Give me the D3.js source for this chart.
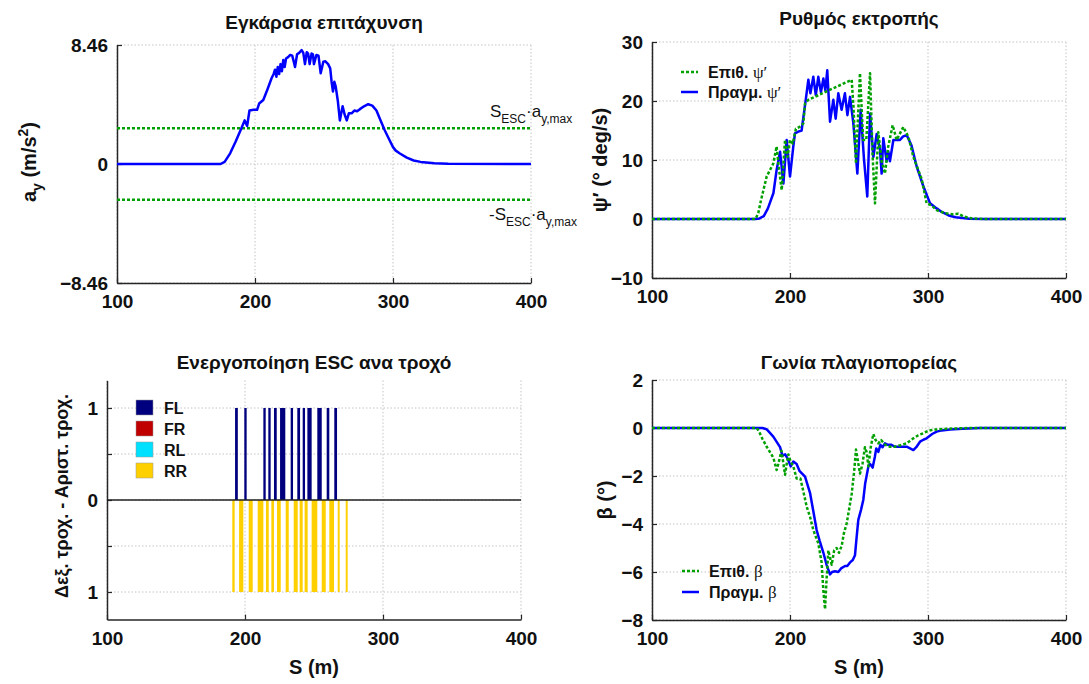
<!DOCTYPE html>
<html>
<head>
<meta charset="utf-8">
<script src="https://cdn.jsdelivr.net/npm/d3@7"></script>
<style>
  body { margin: 0; background: #fff; }
  svg { display: block; font-family: "Liberation Sans", Arial, sans-serif; }
</style>
</head>
<body>
<svg id="chart" width="1089" height="684"></svg>
<script>
// ESC simulation: four small panels sharing the S (m) axis.

const X_TICKS = [100, 200, 300, 400];

// lateral acceleration a_y (m/s^2) vs S
const AY_MAX = 8.46;
const AY_THRESH = 2.55;
const AY_ACT = [[100,0],[170,0],[175,0],[178,0.15],[182,0.76],[186,1.6],[190,2.5],[192.5,3.1],[194.3,2.7],[196,3.8],
  [199,3.85],[201.5,3.85],[203,4.3],[206,4.55],[209,5.3],[212,6.1],[213.5,6.4],[214.5,6.7],[215.5,6.2],[216.5,6.9],
  [217.5,6.4],[218.5,7.1],[219.5,6.6],[220.5,7.4],[221.5,6.9],[222.5,7.5],[224,7.6],[225.5,7.75],[227,7.7],[228,7.3],
  [229,6.9],[230.5,7.8],[232,7.9],[233.8,8.1],[235,7.9],[236.2,7.1],[237.5,7.95],[238.5,7.85],[239.6,7.1],[241,7.85],
  [242,7.8],[242.7,7.1],[244.5,7.75],[246,7.7],[247.6,6.45],[249.5,7.27],[251,7.3],[253,7.1],[254.5,6.8],[255.5,5.85],
  [256.5,5.15],[257.5,5.85],[258.5,5.5],[260,4.5],[261.5,3.1],[262.5,3.6],[263.5,4.1],[265,3.5],[266.5,3.1],[268,3.6],
  [270,3.6],[272,3.8],[274,3.75],[276,3.9],[279,4.1],[282,4.25],[285,4.15],[288,3.8],[291,3.1],[294,2.4],[297,1.8],
  [300,1.2],[302,0.95],[305,0.75],[310,0.45],[315,0.25],[320,0.15],[330,0.05],[340,0.01],[400,0]];

// yaw rate psi' (deg/s): reference and actual
const PSI_TICKS = [-10, 0, 10, 20, 30];
const PSI_REF = [[100,0],[175,0],[177,1.0],[179,3.2],[183.1,7.2],[187.9,9.4],[190.3,12.3],[192,8.5],[194,4.9],[196.4,13.4],
  [198.2,10.5],[200,13.4],[202,12.8],[204.3,15.3],[207.2,15.65],[209.7,16.2],[210.9,19.6],[213.3,20.2],[244.7,23.6],[246,19],
  [247.8,9.4],[250.7,24.7],[253,13.4],[255.3,13.4],[258,24.7],[259.8,11],[261.6,2.65],[264,14.7],[266.4,9.8],[268.8,7.7],
  [271.2,12.3],[274.4,15.9],[277.3,13.4],[282.1,15.6],[285.8,13.9],[289.4,10.5],[295.4,6.8],[299,2.65],[302.6,2.3],
  [306.3,1.5],[312,1.0],[318,0.8],[322,0.9],[326,0.4],[332,0.1],[340,0],[400,0]];
const PSI_ACT = [[100,0],[175,0],[178,0.1],[181,0.5],[184,1.8],[188,4.4],[190.3,8.3],[192.8,11.4],[195.2,6.0],[197.6,13.4],
  [200,7.2],[202.4,12.3],[203.6,14.5],[206,14.8],[208.4,15.0],[210.9,19.3],[213.3,23.6],[214.8,21.3],[216.9,24.1],[218.7,21.0],
  [220.5,24.1],[222.4,21.5],[224.2,23.8],[225.6,21.8],[227,25.2],[229,16.5],[231.4,20.2],[233.1,17.0],[235,21.3],[237.4,18.5],
  [239.8,21.3],[241.6,17.6],[243.5,20.7],[245.9,16.2],[248.8,7.7],[251.2,18.5],[253.6,10.2],[256,3.8],[258,17.9],[260.4,10.5],
  [262.8,14.4],[265.2,11.8],[266.4,7.7],[267.6,13.7],[270,9.8],[271.2,11.5],[272.4,9.8],[274.9,13.4],[279.7,13.4],[282,14],
  [284.6,14.2],[288,12.5],[291.8,8.9],[296.7,5.5],[301.5,2.65],[306.3,1.8],[310,1.2],[315,0.6],[320,0.3],[330,0.05],[340,0],[400,0]];

// ESC activation intervals [S start, S end] per wheel
const BRAKE_TICKS = [-1, -0.5, 0, 0.5, 1];
const FL_ON = [[192.8,194.8],[199.5,201.2],[213.3,215.0],[216.9,218.6],[221.0,223.0],[225.4,229.2],[233.1,234.8],
  [237.9,239.9],[241.8,243.5],[245.2,248.3],[252.4,255.6],[259.2,261.1],[264.7,266.7]];
const RR_ON = [[190.8,192.5],[195.7,198.8],[202.7,205.6],[209.2,213.3],[215.2,217.2],[219.1,221.0],[223.2,225.9],
  [229.5,231.7],[235.3,238.2],[239.6,241.8],[243.2,245.4],[248.3,252.4],[255.6,258.5],[261.1,264.5],[267.2,268.6],[273.0,274.4]];
const WHEELS = ['FL', 'FR', 'RL', 'RR'];
const WHEEL_COLORS = ['#00007f', '#c00000', '#00e0ff', '#ffd000'];

// sideslip angle beta (deg): reference and actual
const BETA_TICKS = [-8, -6, -4, -2, 0, 2];
const BETA_REF = [[100,0],[176,0],[178,-0.2],[180,-0.45],[183.1,-0.78],[186,-1.05],[188,-1.25],[190.3,-1.75],[191.5,-1.5],
  [192.8,-1.2],[193.8,-0.95],[195,-1.4],[196.4,-1.95],[197.6,-1.5],[198.8,-1.1],[200.5,-1.4],[202.4,-1.6],[204.8,-2.1],
  [207.5,-2.1],[209.5,-2.6],[212.1,-3.28],[214.5,-3.7],[216.9,-4.25],[218.5,-4.5],[220.5,-4.8],[222.9,-5.6],[224.2,-6.8],
  [225.4,-7.55],[226.5,-6.3],[227.8,-5.1],[229,-5.4],[230.2,-5.7],[232,-5.1],[233.8,-5.0],[235.5,-5.2],[237.5,-4.9],
  [239,-4.4],[241.1,-3.97],[244.7,-2.75],[246.5,-1.8],[247.8,-0.9],[249,-1.3],[250.7,-1.9],[252.5,-1.5],[254.3,-0.8],
  [255.5,-1.0],[256.8,-1.6],[258.5,-0.8],[260.4,-0.25],[262,-0.5],[264,-0.64],[266,-0.5],[269,-0.7],[272.5,-0.78],
  [276,-0.78],[280,-0.72],[284.5,-0.64],[289.4,-0.43],[293,-0.3],[296.6,-0.22],[300,-0.12],[303.9,-0.07],[313.5,-0.03],
  [330,0],[400,0]];
const BETA_ACT = [[100,0],[180,0],[183,-0.05],[187.9,-0.36],[192.8,-0.8],[194.5,-1.15],[196.5,-1.1],[198.5,-1.3],[200.5,-1.6],
  [202.4,-1.4],[204.8,-1.5],[207,-1.8],[210.9,-2.03],[214.5,-2.7],[217,-3.5],[219.3,-4.25],[221.5,-4.7],[224.2,-5.2],
  [226.5,-5.7],[229,-6.1],[230.5,-6.0],[232.6,-5.97],[235,-6.0],[237,-5.85],[239.9,-5.75],[241.5,-5.75],[243.5,-5.6],
  [245.5,-5.5],[247.1,-5.3],[248.2,-4.6],[249.5,-3.83],[251.5,-3.4],[253.1,-3.0],[254.5,-2.3],[256.8,-1.6],[258,-1.5],
  [259.9,-1.65],[261.5,-1.2],[262.5,-0.85],[264,-1.0],[265.5,-0.7],[267,-0.8],[268.8,-0.64],[271,-0.7],[273.5,-0.7],
  [276,-0.78],[280,-0.78],[284.5,-0.78],[287,-0.85],[289.4,-0.92],[291.5,-0.8],[294.2,-0.57],[297,-0.48],[299,-0.43],
  [303,-0.25],[306.3,-0.15],[310,-0.1],[315.9,-0.06],[325,-0.03],[337.7,0],[400,0]];

const BLUE = '#0000ff';
const GREEN = '#00a000';
const AXIS_COL = '#262626';
const GRID_COL = '#c4c4c4';

const svg = d3.select('#chart');

function makePanel(p) {
  const x = d3.scaleLinear().domain([100, 400]).range([p.left, p.left + 414]);
  const y = d3.scaleLinear().domain(p.yDomain).range([p.bottom, p.top]);
  const g = svg.append('g');

  // dotted grid at every tick
  g.append('g').selectAll('line').data(X_TICKS).join('line')
    .attr('x1', d => x(d)).attr('x2', d => x(d))
    .attr('y1', p.top).attr('y2', p.bottom)
    .attr('stroke', GRID_COL).attr('stroke-dasharray', '1.5 2');
  g.append('g').selectAll('line').data(p.yTicks).join('line')
    .attr('x1', x(100)).attr('x2', x(400))
    .attr('y1', d => y(d)).attr('y2', d => y(d))
    .attr('stroke', GRID_COL).attr('stroke-dasharray', '1.5 2');

  const ax = g.append('g').attr('transform', `translate(0,${p.bottom})`)
    .call(d3.axisBottom(x).tickValues(X_TICKS).tickSize(-5).tickSizeOuter(0).tickPadding(12));
  const ay = g.append('g').attr('transform', `translate(${p.left},0)`)
    .call(d3.axisLeft(y).tickValues(p.yTicks).tickSize(-5).tickSizeOuter(0).tickPadding(9)
      .tickFormat(p.fmt || d3.format('')));
  [ax, ay].forEach(a => {
    a.select('.domain').attr('stroke', AXIS_COL).attr('stroke-width', 1.5);
    a.selectAll('.tick line').attr('stroke', AXIS_COL).attr('stroke-width', 1.2);
    a.selectAll('.tick text').attr('font-size', 19).attr('font-weight', 'bold')
      .attr('fill', '#111').attr('font-family', '"Liberation Sans", Arial, sans-serif');
  });

  g.append('text')
    .attr('x', (x(100) + x(400)) / 2).attr('y', p.titleY)
    .attr('text-anchor', 'middle').attr('font-size', 19).attr('font-weight', 'bold')
    .attr('fill', '#111').text(p.title);

  if (p.xLabel) {
    g.append('text')
      .attr('x', (x(100) + x(400)) / 2).attr('y', p.bottom + 54)
      .attr('text-anchor', 'middle').attr('font-size', 20).attr('font-weight', 'bold')
      .attr('fill', '#111').text('S (m)');
  }
  return { x, y, g };
}

function drawLine(pn, data, color, dashed) {
  pn.g.append('path')
    .datum(data)
    .attr('fill', 'none')
    .attr('stroke', color)
    .attr('stroke-width', 2.5)
    .attr('stroke-linejoin', 'round')
    .attr('stroke-dasharray', dashed ? '3 2' : null)
    .attr('d', d3.line().x(d => pn.x(d[0])).y(d => pn.y(d[1])));
}

function yLabel(cx, cy, build) {
  const t = svg.append('text')
    .attr('transform', `translate(${cx},${cy}) rotate(-90)`)
    .attr('text-anchor', 'middle').attr('font-size', 20).attr('font-weight', 'bold').attr('fill', '#111');
  build(t);
}

function lineLegend(pn, x0, rows) {
  rows.forEach((r, i) => {
    const yy = r.y;
    pn.g.append('line').attr('x1', x0).attr('x2', x0 + 17).attr('y1', yy).attr('y2', yy)
      .attr('stroke', r.color).attr('stroke-width', 2.5).attr('stroke-dasharray', r.dashed ? '3 2' : null);
    const t = pn.g.append('text').attr('x', x0 + 27).attr('y', yy + 5.5)
      .attr('font-size', 16).attr('font-weight', 'bold').attr('fill', '#111');
    t.append('tspan').text(r.label + ' ');
    t.append('tspan').attr('font-family', '"Liberation Serif", "DejaVu Serif", serif')
      .attr('font-weight', 'normal').attr('font-size', 17).text(r.sym);
  });
}

// ---- top-left: lateral acceleration
const p1 = makePanel({ left: 117, top: 45, bottom: 283, yDomain: [-AY_MAX, AY_MAX],
  yTicks: [-AY_MAX, 0, AY_MAX], fmt: d => d === 0 ? '0' : d3.format('.2f')(d),
  title: 'Εγκάρσια επιτάχυνση', titleY: 29 });
[AY_THRESH, -AY_THRESH].forEach(v => {
  p1.g.append('line').attr('x1', p1.x(100)).attr('x2', p1.x(400))
    .attr('y1', p1.y(v)).attr('y2', p1.y(v))
    .attr('stroke', GREEN).attr('stroke-width', 2.5).attr('stroke-dasharray', '3 2');
});
drawLine(p1, AY_ACT, BLUE, false);
function escLabel(x0, yb, minus) {
  const t = p1.g.append('text').attr('x', x0).attr('y', yb).attr('font-size', 17).attr('fill', '#111');
  t.append('tspan').text((minus ? '-' : '') + 'S');
  t.append('tspan').attr('font-size', 12).attr('dy', 6).text('ESC');
  t.append('tspan').attr('dy', -6).text('·a');
  t.append('tspan').attr('font-size', 12).attr('dy', 6).text('y,max');
}
escLabel(490, p1.y(AY_THRESH) - 11, false);
escLabel(489, p1.y(-AY_THRESH) + 20, true);
yLabel(36, 162, t => {
  t.append('tspan').text('a');
  t.append('tspan').attr('font-size', 14).attr('dy', 6).text('y');
  t.append('tspan').attr('dy', -6).text(' (m/s');
  t.append('tspan').attr('font-size', 14).attr('dy', -8).text('2');
  t.append('tspan').attr('dy', 8).text(')');
});

// ---- top-right: yaw rate
const p2 = makePanel({ left: 652, top: 42, bottom: 278, yDomain: [-10, 30], yTicks: PSI_TICKS,
  title: 'Ρυθμός εκτροπής', titleY: 25 });
drawLine(p2, PSI_ACT, BLUE, false);
drawLine(p2, PSI_REF, GREEN, true);
lineLegend(p2, 681, [
  { y: 72, color: GREEN, dashed: true, label: 'Επιθ.', sym: 'ψ′' },
  { y: 92, color: BLUE, dashed: false, label: 'Πραγμ.', sym: 'ψ′' }]);
yLabel(607, 160, t => t.text('ψ′ (° deg/s)'));

// ---- bottom-left: ESC activation per wheel
const p3 = makePanel({ left: 107, top: 380.4, bottom: 619.6, yDomain: [-1.3, 1.3], yTicks: BRAKE_TICKS,
  fmt: d => Number.isInteger(d) ? String(Math.abs(d)) : '',
  title: 'Ενεργοποίηση ESC ανα τροχό', titleY: 369, xLabel: true });
p3.g.append('g').selectAll('rect').data(FL_ON).join('rect')
  .attr('x', d => p3.x(d[0])).attr('width', d => p3.x(d[1]) - p3.x(d[0]))
  .attr('y', p3.y(1)).attr('height', p3.y(0) - p3.y(1))
  .attr('fill', WHEEL_COLORS[0]);
p3.g.append('g').selectAll('rect').data(RR_ON).join('rect')
  .attr('x', d => p3.x(d[0])).attr('width', d => p3.x(d[1]) - p3.x(d[0]))
  .attr('y', p3.y(0)).attr('height', p3.y(-1) - p3.y(0))
  .attr('fill', WHEEL_COLORS[3]);
p3.g.append('line').attr('x1', p3.x(100)).attr('x2', p3.x(400))
  .attr('y1', p3.y(0)).attr('y2', p3.y(0)).attr('stroke', '#222').attr('stroke-width', 1.5);
WHEELS.forEach((w, i) => {
  const yy = 400 + i * 21;
  p3.g.append('rect').attr('x', 136).attr('y', yy).attr('width', 17).attr('height', 15)
    .attr('fill', WHEEL_COLORS[i]).attr('stroke', '#999').attr('stroke-width', 0.5);
  p3.g.append('text').attr('x', 164).attr('y', yy + 13.5).attr('font-size', 16)
    .attr('font-weight', 'bold').attr('fill', '#111').text(w);
});
yLabel(68, 496, t => t.attr('font-size', 18).text('Δεξ. τροχ. - Αριστ. τροχ.'));

// ---- bottom-right: sideslip
const p4 = makePanel({ left: 652, top: 380, bottom: 620, yDomain: [-8, 2], yTicks: BETA_TICKS,
  title: 'Γωνία πλαγιοπορείας', titleY: 369, xLabel: true });
drawLine(p4, BETA_ACT, BLUE, false);
drawLine(p4, BETA_REF, GREEN, true);
lineLegend(p4, 682, [
  { y: 571, color: GREEN, dashed: true, label: 'Επιθ.', sym: 'β' },
  { y: 592, color: BLUE, dashed: false, label: 'Πραγμ.', sym: 'β' }]);
yLabel(612, 500, t => t.text('β (°)'));
</script>
</body>
</html>
